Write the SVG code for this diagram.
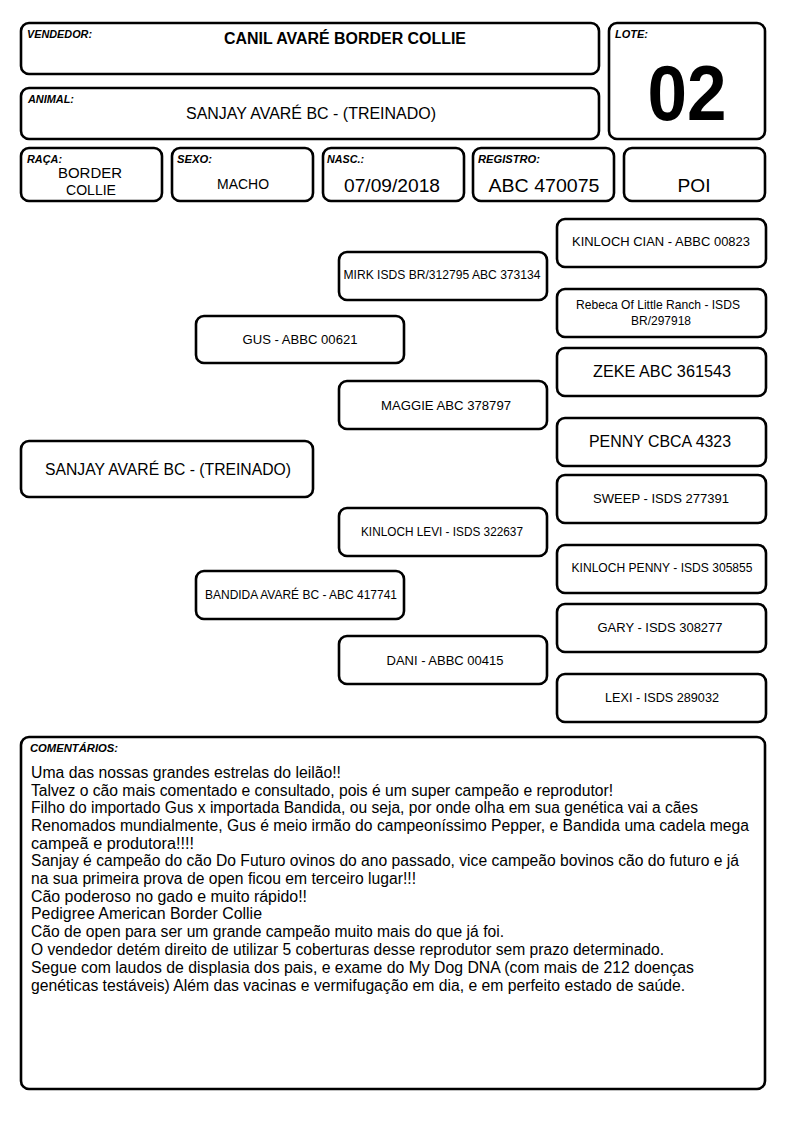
<svg xmlns="http://www.w3.org/2000/svg" width="794" height="1123" viewBox="0 0 794 1123">
<style>
.b{fill:#fff;stroke:#000;stroke-width:2.6}
text{font-family:"Liberation Sans Narrow","Liberation Sans",Arial,sans-serif;fill:#000}
.lab{font-size:10px;font-weight:bold;font-style:italic}
.c{text-anchor:middle}
.p{font-size:13px}
.pl{font-size:16px}
.cm{font-size:16px}
</style>
<rect width="794" height="1123" fill="#fff"/>
<g id="vendedor">
<rect class="b" x="21" y="23" width="578" height="51" rx="8"/>
<text class="lab" x="27" y="38" textLength="65" lengthAdjust="spacingAndGlyphs">VENDEDOR:</text>
<text class="c" x="345" y="44" font-size="16" font-weight="bold" textLength="242" lengthAdjust="spacingAndGlyphs">CANIL AVARÉ BORDER COLLIE</text>
</g>
<g id="lote">
<rect class="b" x="609" y="23" width="156" height="116" rx="8"/>
<text class="lab" x="615" y="38" textLength="33" lengthAdjust="spacingAndGlyphs">LOTE:</text>
<text class="c" x="687" y="120" font-size="78" font-weight="bold" textLength="79" lengthAdjust="spacingAndGlyphs">02</text>
</g>
<g id="animal">
<rect class="b" x="21" y="88" width="578" height="51" rx="8"/>
<text class="lab" x="28" y="103" textLength="46" lengthAdjust="spacingAndGlyphs">ANIMAL:</text>
<text class="c" x="311" y="119" font-size="16" textLength="250" lengthAdjust="spacingAndGlyphs">SANJAY AVARÉ BC - (TREINADO)</text>
</g>
<g id="raca">
<rect class="b" x="21" y="148" width="141" height="53" rx="8"/>
<text class="lab" x="27" y="163" textLength="35" lengthAdjust="spacingAndGlyphs">RAÇA:</text>
<text class="c" x="90" y="178" font-size="15" textLength="64" lengthAdjust="spacingAndGlyphs">BORDER</text>
<text class="c" x="91" y="195" font-size="15" textLength="50" lengthAdjust="spacingAndGlyphs">COLLIE</text>
</g>
<g id="sexo">
<rect class="b" x="172" y="148" width="141" height="53" rx="8"/>
<text class="lab" x="177" y="163" textLength="35" lengthAdjust="spacingAndGlyphs">SEXO:</text>
<text class="c" x="243" y="189" font-size="15" textLength="52" lengthAdjust="spacingAndGlyphs">MACHO</text>
</g>
<g id="nasc">
<rect class="b" x="323" y="148" width="141" height="53" rx="8"/>
<text class="lab" x="327" y="163" textLength="37" lengthAdjust="spacingAndGlyphs">NASC.:</text>
<text class="c" x="392" y="192" font-size="18" textLength="96" lengthAdjust="spacingAndGlyphs">07/09/2018</text>
</g>
<g id="registro">
<rect class="b" x="473" y="148" width="141" height="53" rx="8"/>
<text class="lab" x="478" y="163" textLength="62" lengthAdjust="spacingAndGlyphs">REGISTRO:</text>
<text class="c" x="544" y="192" font-size="18" textLength="111" lengthAdjust="spacingAndGlyphs">ABC 470075</text>
</g>
<g id="poi">
<rect class="b" x="624" y="148" width="141" height="53" rx="8"/>
<text class="c" x="694" y="192" font-size="18" textLength="33" lengthAdjust="spacingAndGlyphs">POI</text>
</g>
<g id="connectors"></g>
<g id="sanjay">
<rect class="b" x="21" y="441" width="292" height="56" rx="8"/>
<text class="c pl" x="168" y="475" textLength="246" lengthAdjust="spacingAndGlyphs">SANJAY AVARÉ BC - (TREINADO)</text>
</g>
<g id="gus">
<rect class="b" x="196" y="316" width="208" height="47" rx="8"/>
<text class="c p" x="300" y="344" textLength="115" lengthAdjust="spacingAndGlyphs">GUS - ABBC 00621</text>
</g>
<g id="bandida">
<rect class="b" x="196" y="571" width="208" height="48" rx="8"/>
<text class="c p" x="301" y="599" textLength="192" lengthAdjust="spacingAndGlyphs">BANDIDA AVARÉ BC - ABC 417741</text>
</g>
<g id="mirk">
<rect class="b" x="339" y="252" width="208" height="48" rx="8"/>
<text class="c p" x="442" y="279" textLength="197" lengthAdjust="spacingAndGlyphs">MIRK ISDS BR/312795 ABC 373134</text>
</g>
<g id="maggie">
<rect class="b" x="339" y="381" width="208" height="48" rx="8"/>
<text class="c p" x="446" y="410" textLength="130" lengthAdjust="spacingAndGlyphs">MAGGIE ABC 378797</text>
</g>
<g id="kinloch-levi">
<rect class="b" x="339" y="508" width="208" height="48" rx="8"/>
<text class="c p" x="442" y="536" textLength="162" lengthAdjust="spacingAndGlyphs">KINLOCH LEVI - ISDS 322637</text>
</g>
<g id="dani">
<rect class="b" x="339" y="636" width="208" height="48" rx="8"/>
<text class="c p" x="445" y="665" textLength="117" lengthAdjust="spacingAndGlyphs">DANI - ABBC 00415</text>
</g>
<g id="kinloch-cian">
<rect class="b" x="557" y="219" width="209" height="48" rx="8"/>
<text class="c p" x="661" y="246" textLength="178" lengthAdjust="spacingAndGlyphs">KINLOCH CIAN - ABBC 00823</text>
</g>
<g id="rebeca">
<rect class="b" x="557" y="289" width="209" height="48" rx="8"/>
<text class="c p" x="658" y="309" textLength="164" lengthAdjust="spacingAndGlyphs">Rebeca Of Little Ranch - ISDS</text>
<text class="c p" x="661" y="325" textLength="60" lengthAdjust="spacingAndGlyphs">BR/297918</text>
</g>
<g id="zeke">
<rect class="b" x="557" y="348" width="209" height="48" rx="8"/>
<text class="c pl" x="662" y="377" textLength="138" lengthAdjust="spacingAndGlyphs">ZEKE ABC 361543</text>
</g>
<g id="penny">
<rect class="b" x="557" y="418" width="209" height="48" rx="8"/>
<text class="c pl" x="660" y="447" textLength="142" lengthAdjust="spacingAndGlyphs">PENNY CBCA 4323</text>
</g>
<g id="sweep">
<rect class="b" x="557" y="475" width="209" height="48" rx="8"/>
<text class="c p" x="661" y="503" textLength="136" lengthAdjust="spacingAndGlyphs">SWEEP - ISDS 277391</text>
</g>
<g id="kinloch-penny">
<rect class="b" x="557" y="545" width="209" height="48" rx="8"/>
<text class="c p" x="662" y="572" textLength="181" lengthAdjust="spacingAndGlyphs">KINLOCH PENNY - ISDS 305855</text>
</g>
<g id="gary">
<rect class="b" x="557" y="604" width="209" height="48" rx="8"/>
<text class="c p" x="660" y="632" textLength="125" lengthAdjust="spacingAndGlyphs">GARY - ISDS 308277</text>
</g>
<g id="lexi">
<rect class="b" x="557" y="674" width="209" height="48" rx="8"/>
<text class="c p" x="662" y="702" textLength="114" lengthAdjust="spacingAndGlyphs">LEXI - ISDS 289032</text>
</g>
<g id="comentarios">
<rect class="b" x="21" y="737" width="744" height="352" rx="8"/>
<text class="lab" x="30" y="752" textLength="88" lengthAdjust="spacingAndGlyphs">COMENTÁRIOS:</text>
<text class="cm" x="31" y="778" textLength="310" lengthAdjust="spacingAndGlyphs">Uma das nossas grandes estrelas do leilão!!</text>
<text class="cm" x="31" y="796" textLength="582" lengthAdjust="spacingAndGlyphs">Talvez o cão mais comentado e consultado, pois é um super campeão e reprodutor!</text>
<text class="cm" x="31" y="813" textLength="667" lengthAdjust="spacingAndGlyphs">Filho do importado Gus x importada Bandida, ou seja, por onde olha em sua genética vai a cães</text>
<text class="cm" x="31" y="831" textLength="718" lengthAdjust="spacingAndGlyphs">Renomados mundialmente, Gus é meio irmão do campeoníssimo Pepper, e Bandida uma cadela mega</text>
<text class="cm" x="31" y="849" textLength="163" lengthAdjust="spacingAndGlyphs">campeã e produtora!!!!</text>
<text class="cm" x="31" y="866" textLength="708" lengthAdjust="spacingAndGlyphs">Sanjay é campeão do cão Do Futuro ovinos do ano passado, vice campeão bovinos cão do futuro e já</text>
<text class="cm" x="31" y="884" textLength="385" lengthAdjust="spacingAndGlyphs">na sua primeira prova de open ficou em terceiro lugar!!!</text>
<text class="cm" x="31" y="902" textLength="276" lengthAdjust="spacingAndGlyphs">Cão poderoso no gado e muito rápido!!</text>
<text class="cm" x="31" y="919" textLength="231" lengthAdjust="spacingAndGlyphs">Pedigree American Border Collie</text>
<text class="cm" x="31" y="937" textLength="473" lengthAdjust="spacingAndGlyphs">Cão de open para ser um grande campeão muito mais do que já foi.</text>
<text class="cm" x="31" y="955" textLength="633" lengthAdjust="spacingAndGlyphs">O vendedor detém direito de utilizar 5 coberturas desse reprodutor sem prazo determinado.</text>
<text class="cm" x="31" y="973" textLength="663" lengthAdjust="spacingAndGlyphs">Segue com laudos de displasia dos pais, e exame do My Dog DNA (com mais de 212 doenças</text>
<text class="cm" x="31" y="991" textLength="654" lengthAdjust="spacingAndGlyphs">genéticas testáveis) Além das vacinas e vermifugação em dia, e em perfeito estado de saúde.</text>
</g>
</svg>
